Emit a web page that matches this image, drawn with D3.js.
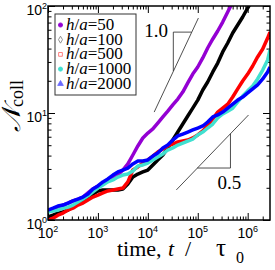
<!DOCTYPE html>
<html>
<head>
<meta charset="utf-8">
<script src="https://cdn.jsdelivr.net/npm/d3@7"></script>
<style>
  body { margin: 0; background: #fff; }
  svg { display: block; }
</style>
</head>
<body>
<div id="chart"></div>
<script>
// time grid, t / tau0
const time = [100, 126, 158, 200, 251, 316, 398, 501, 631, 794,
  1000, 1260, 1580, 2000, 2510, 3160, 3980, 5010, 6310, 7940,
  1e4, 12600, 15800, 2e4, 25100, 31600, 39800, 50100, 63100, 79400,
  1e5, 126000, 158000, 2e5, 251000, 316000, 398000, 501000, 631000, 794000,
  1e6, 1.26e6, 1.58e6, 2e6, 2.51e6, 2.8e6];

// N_coll for each h/a
const n50 = [1.21, 1.27, 1.32, 1.38, 1.44, 1.51, 1.57, 1.64, 1.79, 1.95,
  2.08, 2.22, 2.31, 2.47, 2.63, 2.93, 3.34, 4.05, 4.92, 5.84,
  6.50, 7.09, 8.06, 9.18, 10.4, 11.9, 13.5, 15.7, 19.1, 23.1,
  26.9, 32.7, 40.5, 49.2, 58.4, 70.8, 87.9, 109];
const n100 = [1.07, 1.11, 1.16, 1.19, 1.24, 1.32, 1.41, 1.51, 1.61, 1.75,
  1.87, 1.91, 1.91, 1.91, 1.91, 1.95, 2.17, 2.52, 2.69, 2.81,
  2.93, 3.27, 3.64, 4.05, 4.71, 5.59, 6.64, 7.89, 9.38, 11.1,
  13.2, 16.4, 19.5, 24.2, 29.3, 37.2, 45.1, 55.9, 66.4, 78.9,
  95.8, 115];
const n500 = [1.00, 1.04, 1.11, 1.16, 1.24, 1.29, 1.38, 1.44, 1.54, 1.64,
  1.71, 1.79, 1.87, 1.91, 1.95, 1.99, 2.27, 2.93, 3.13, 3.41,
  3.64, 3.96, 4.32, 4.61, 4.92, 5.13, 5.36, 5.47, 5.59, 5.84,
  6.23, 6.79, 7.72, 8.79, 10.2, 11.1, 12.1, 14.1, 16.8, 19.9,
  23.1, 27.5, 33.4, 39.6, 50.2, 57.1];
const n1000 = [1.19, 1.21, 1.24, 1.29, 1.32, 1.38, 1.47, 1.57, 1.68, 1.83,
  1.99, 2.12, 2.27, 2.37, 2.52, 2.63, 2.69, 2.87, 3.20, 3.27,
  3.41, 3.64, 3.88, 4.14, 4.51, 4.71, 5.02, 5.24, 5.47, 5.71,
  6.23, 6.64, 7.24, 7.89, 8.98, 9.79, 10.4, 11.1, 12.7, 14.4,
  16.1, 17.9, 20.8, 25.2, 31.3, 38.8];
const n2000 = [1.24, 1.29, 1.35, 1.38, 1.44, 1.51, 1.57, 1.64, 1.75, 1.95,
  2.08, 2.27, 2.42, 2.63, 2.81, 2.93, 3.06, 3.34, 3.56, 3.56,
  3.64, 3.96, 4.23, 4.71, 5.02, 5.59, 6.10, 6.36, 6.64, 6.94,
  7.24, 7.56, 8.24, 9.18, 9.58, 10.2, 11.1, 12.1, 13.2, 14.1,
  15.4, 16.8, 18.3, 20.8, 24.2, 26.9];

const ratios = [50, 100, 500, 1000, 2000];
const colors = ["#9400d3", "#000000", "#ff0000", "#40e0d0", "#0000ff"];
const seriesValues = [n50, n100, n500, n1000, n2000];

const xMajor = [1e2, 1e3, 1e4, 1e5, 1e6];
const xExp = ["2", "3", "4", "5", "6"];
const yMajor = [1, 10, 100];
const yExp = ["0", "1", "2"];

// slope guides [t, N]
const guide1 = [[1.34e4, 10.2], [1.03e5, 77.2]];
const tri1 = [[3.24e4, 24.7], [3.24e4, 57.0], [7.49e4, 57.0]];
const guide05 = [[3.72e4, 1.91], [1.04e6, 9.58]];
const tri05 = [[9.8e4, 3.06], [4.52e5, 3.06], [4.52e5, 6.4]];
const guideLabels = [{ text: "1.0", t: 8.5e3, n: 51.3 }, { text: "0.5", t: 2.48e5, n: 1.95 }];

const W = 275, H = 270;
const margin = { top: 6, right: 5, bottom: 50, left: 48 };
const w = W - margin.left - margin.right;
const h = H - margin.top - margin.bottom;

const svg = d3.select("#chart").append("svg")
  .attr("width", W).attr("height", H);

const g = svg.append("g").attr("transform", `translate(${margin.left},${margin.top})`);

const x = d3.scaleLog().domain([100, 2.8e6]).range([0, w]);
const y = d3.scaleLog().domain([1, 100]).range([h, 0]);

g.append("clipPath").attr("id", "clip")
  .append("rect").attr("width", w).attr("height", h);

// minor tick values
const xMinor = [];
for (let d = 100; d < 2.8e6; d *= 10)
  for (let k = 2; k <= 9; k++) if (d * k <= 2.8e6) xMinor.push(d * k);
const yMinor = [];
for (let d = 1; d < 100; d *= 10)
  for (let k = 2; k <= 9; k++) yMinor.push(d * k);

function ticks(axis, vals, size, tr) {
  g.append("g").attr("transform", tr)
    .call(axis.tickValues(vals).tickSize(size).tickFormat(""))
    .call(s => s.select(".domain").remove())
    .selectAll("line").attr("stroke", "#000").attr("stroke-width", 1);
}
ticks(d3.axisBottom(x), xMajor, -7, `translate(0,${h})`);
ticks(d3.axisBottom(x), xMinor, -3.5, `translate(0,${h})`);
ticks(d3.axisTop(x), xMajor, -7, "translate(0,0)");
ticks(d3.axisTop(x), xMinor, -3.5, "translate(0,0)");
ticks(d3.axisLeft(y), yMajor, -7, "translate(0,0)");
ticks(d3.axisLeft(y), yMinor, -3.5, "translate(0,0)");
ticks(d3.axisRight(y), yMajor, -7, `translate(${w},0)`);
ticks(d3.axisRight(y), yMinor, -3.5, `translate(${w},0)`);

// tick labels
const xl = g.append("g").attr("font-family", "Liberation Sans, Arial, sans-serif").attr("font-size", 14);
xMajor.forEach((v, i) => {
  const t = xl.append("text").attr("x", x(v)).attr("y", h + 18).attr("text-anchor", "middle");
  t.append("tspan").text("10");
  t.append("tspan").attr("font-size", 9).attr("dy", -6).text(xExp[i]);
});
const yl = g.append("g").attr("font-family", "Liberation Sans, Arial, sans-serif").attr("font-size", 14);
yMajor.forEach((v, i) => {
  const t = yl.append("text").attr("x", -1).attr("y", y(v) + 9).attr("text-anchor", "end");
  t.append("tspan").text("10");
  t.append("tspan").attr("font-size", 9).attr("dy", -6).text(yExp[i]);
});

// guides
const line = d3.line().x(d => x(d[0])).y(d => y(d[1]));
[guide1, tri1, guide05, tri05].forEach(p => {
  g.append("path").attr("d", line(p)).attr("fill", "none")
    .attr("stroke", "#222").attr("stroke-width", 0.8);
});
guideLabels.forEach(d => {
  g.append("text").attr("x", x(d.t)).attr("y", y(d.n))
    .attr("font-family", "Liberation Serif, Times New Roman, serif")
    .attr("font-size", 19).text(d.text);
});

// data curves
const curves = g.append("g").attr("clip-path", "url(#clip)");
seriesValues.forEach((vals, i) => {
  const pts = vals.map((n, j) => [time[j], n]);
  curves.append("path").attr("d", line(pts))
    .attr("fill", "none").attr("stroke", colors[i])
    .attr("stroke-width", 3.5).attr("stroke-linejoin", "round");
});

// frame
g.append("rect").attr("width", w).attr("height", h)
  .attr("fill", "none").attr("stroke", "#000").attr("stroke-width", 1.5);

// legend
const lg = g.append("g").attr("transform", "translate(7,8)");
lg.append("rect").attr("width", 81).attr("height", 81)
  .attr("fill", "#fff").attr("stroke", "#333").attr("stroke-width", 1);
const symbols = [d3.symbolCircle, d3.symbolDiamond, d3.symbolSquare, d3.symbolCircle, d3.symbolTriangle];
const symFill = ["#9400d3", "none", "none", "#40e0d0", "#6a6aff"];
const symStroke = ["#9400d3", "#777", "#ff6060", "#40e0d0", "#6a6aff"];
ratios.forEach((r, i) => {
  const yy = 16 + i * 14.7;
  lg.append("path").attr("d", d3.symbol(symbols[i], 14)())
    .attr("transform", `translate(5.5,${yy - 5})`)
    .attr("fill", symFill[i]).attr("stroke", symStroke[i]).attr("stroke-width", 0.8);
  const t = lg.append("text").attr("x", 11).attr("y", yy)
    .attr("font-family", "Liberation Serif, Times New Roman, serif").attr("font-size", 17);
  t.append("tspan").attr("font-style", "italic").text("h");
  t.append("tspan").text("/");
  t.append("tspan").attr("font-style", "italic").text("a");
  t.append("tspan").text("=" + r);
});

// axis titles
const xt = svg.append("text").attr("y", 256)
  .attr("font-family", "Liberation Serif, Times New Roman, serif").attr("font-size", 22);
xt.append("tspan").attr("x", 117).text("time,");
xt.append("tspan").attr("x", 168).attr("font-style", "italic").text("t");
xt.append("tspan").attr("x", 185).text("/");
xt.append("tspan").attr("x", 216).attr("font-size", 25).text("τ");
xt.append("tspan").attr("x", 236).attr("dy", 7).attr("font-size", 16).text("0");

const yt = svg.append("text").attr("transform", "translate(20,132) rotate(-90)")
  .attr("font-family", "Liberation Serif, Times New Roman, serif");
yt.append("tspan").attr("font-size", 26).attr("font-style", "italic").text("𝒩");
yt.append("tspan").attr("font-size", 18).attr("dy", 3).text("coll");
</script>
</body>
</html>
